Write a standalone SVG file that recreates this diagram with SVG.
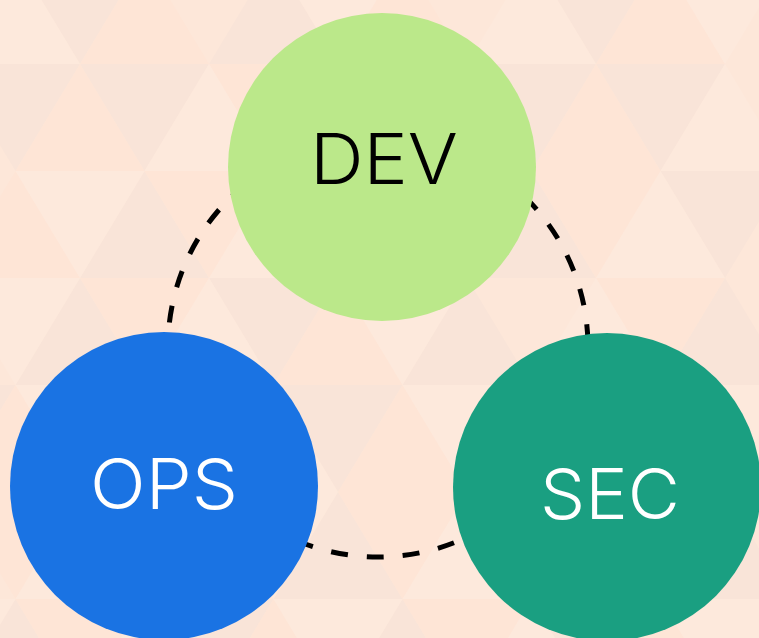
<svg xmlns="http://www.w3.org/2000/svg" width="759" height="638" viewBox="0 0 759 638">
<style>
.ta{fill:#f9e4d8}.tb{fill:#fee5d6}.tc{fill:#fde9dc}
.lbl{font-family:Inter,"Open Sans","Liberation Sans",sans-serif;font-weight:300;font-size:70px;text-anchor:middle}
.ring{fill:none;stroke:#000;stroke-width:5;stroke-dasharray:17 19}
</style>
<g id="background">
<rect width="759" height="638" fill="#fde7d9"/>
<path class="ta" d="M15.5,-43 L144.5,-43 L80,64Z M273.5,-43 L209,64 L338,64Z M531.5,-43 L660.5,-43 L596,64Z M-49,64 L80,64 L15.5,171Z M80,64 L209,64 L144.5,171Z M338,64 L467,64 L402.5,171Z M467,64 L596,64 L531.5,171Z M596,64 L725,64 L660.5,171Z M144.5,171 L80,278 L209,278Z M273.5,171 L402.5,171 L338,278Z M531.5,171 L467,278 L596,278Z M660.5,171 L789.5,171 L725,278Z M80,278 L15.5,385 L144.5,385Z M209,278 L338,278 L273.5,385Z M467,278 L402.5,385 L531.5,385Z M725,278 L660.5,385 L789.5,385Z M-113.5,385 L15.5,385 L-49,492Z M144.5,385 L80,492 L209,492Z M273.5,385 L402.5,385 L338,492Z M531.5,385 L467,492 L596,492Z M80,492 L209,492 L144.5,599Z M338,492 L273.5,599 L402.5,599Z M467,492 L596,492 L531.5,599Z M725,492 L660.5,599 L789.5,599Z M15.5,599 L-49,706 L80,706Z M144.5,599 L273.5,599 L209,706Z M402.5,599 L338,706 L467,706Z M531.5,599 L660.5,599 L596,706Z"/>
<path class="tb" d="M144.5,-43 L80,64 L209,64Z M402.5,-43 L338,64 L467,64Z M660.5,-43 L596,64 L725,64Z M80,64 L15.5,171 L144.5,171Z M209,64 L338,64 L273.5,171Z M596,64 L531.5,171 L660.5,171Z M15.5,171 L-49,278 L80,278Z M144.5,171 L273.5,171 L209,278Z M402.5,171 L531.5,171 L467,278Z M531.5,171 L660.5,171 L596,278Z M80,278 L209,278 L144.5,385Z M338,278 L273.5,385 L402.5,385Z M596,278 L725,278 L660.5,385Z M15.5,385 L-49,492 L80,492Z M144.5,385 L273.5,385 L209,492Z M402.5,385 L338,492 L467,492Z M660.5,385 L596,492 L725,492Z M-49,492 L80,492 L15.5,599Z M209,492 L144.5,599 L273.5,599Z M338,492 L467,492 L402.5,599Z M596,492 L531.5,599 L660.5,599Z M15.5,599 L144.5,599 L80,706Z M273.5,599 L209,706 L338,706Z M402.5,599 L531.5,599 L467,706Z M660.5,599 L596,706 L725,706Z"/>
<path class="tc" d="M-113.5,-43 L15.5,-43 L-49,64Z M15.5,-43 L-49,64 L80,64Z M273.5,-43 L402.5,-43 L338,64Z M531.5,-43 L467,64 L596,64Z M660.5,-43 L789.5,-43 L725,64Z M209,64 L144.5,171 L273.5,171Z M467,64 L402.5,171 L531.5,171Z M725,64 L660.5,171 L789.5,171Z M15.5,171 L144.5,171 L80,278Z M273.5,171 L209,278 L338,278Z M660.5,171 L596,278 L725,278Z M-49,278 L80,278 L15.5,385Z M209,278 L144.5,385 L273.5,385Z M338,278 L467,278 L402.5,385Z M596,278 L531.5,385 L660.5,385Z M15.5,385 L144.5,385 L80,492Z M273.5,385 L209,492 L338,492Z M402.5,385 L531.5,385 L467,492Z M660.5,385 L789.5,385 L725,492Z M80,492 L15.5,599 L144.5,599Z M209,492 L338,492 L273.5,599Z M467,492 L402.5,599 L531.5,599Z M596,492 L725,492 L660.5,599Z M-113.5,599 L15.5,599 L-49,706Z M144.5,599 L80,706 L209,706Z M273.5,599 L402.5,599 L338,706Z M531.5,599 L467,706 L596,706Z M660.5,599 L789.5,599 L725,706Z"/>
</g>
<g id="connectors">
<circle class="ring" cx="378" cy="347" r="210"/>
</g>
<g id="node-dev">
<circle cx="382" cy="167" r="154" fill="#bbe88a"/>
<text class="lbl" x="384" y="184" textLength="148" lengthAdjust="spacingAndGlyphs" fill="#000">DEV</text>
</g>
<g id="node-ops">
<circle cx="164" cy="486" r="154" fill="#1a73e3"/>
<text class="lbl" x="164" y="509" textLength="148" lengthAdjust="spacingAndGlyphs" fill="#fff">OPS</text>
</g>
<g id="node-sec">
<circle cx="607" cy="487" r="154" fill="#1a9f81"/>
<text class="lbl" x="610" y="519" textLength="140" lengthAdjust="spacingAndGlyphs" fill="#fff">SEC</text>
</g>
</svg>
